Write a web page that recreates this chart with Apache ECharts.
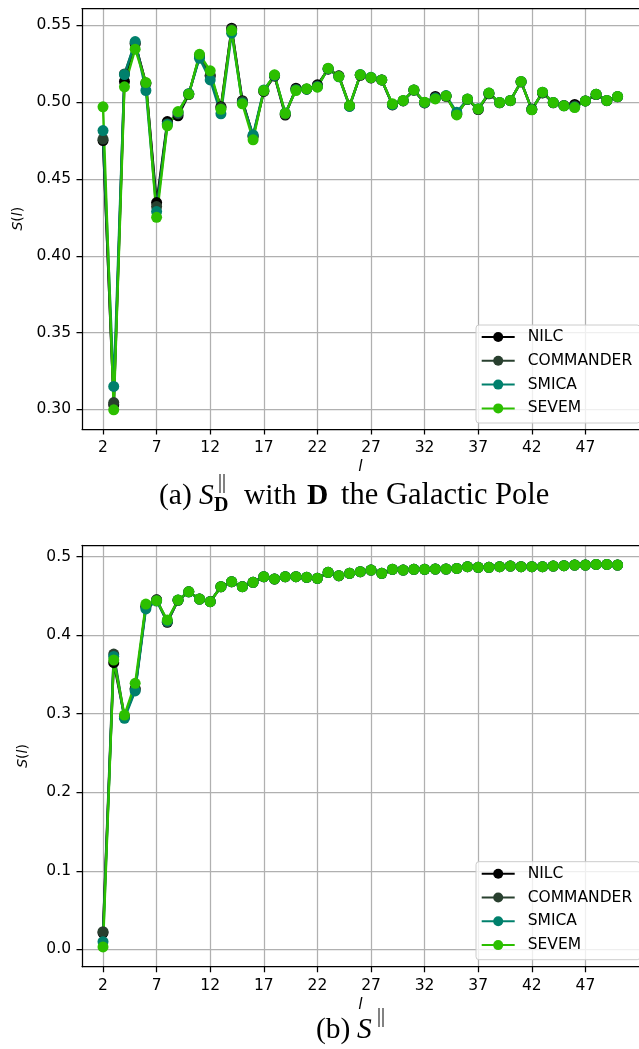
<!DOCTYPE html>
<html><head><meta charset="utf-8">
<script src="https://cdn.jsdelivr.net/npm/echarts@6/dist/echarts.min.js"></script>
<style>html,body{margin:0;padding:0;background:#fff}#c{width:639px;height:1049px}</style>
</head><body><div id="c"></div>
<script>
// multipole l
const ells = [2,3,4,5,6,7,8,9,10,11,12,13,14,15,16,17,18,19,20,21,22,23,24,25,26,27,28,29,30,31,32,33,34,35,36,37,38,39,40,41,42,43,44,45,46,47,48,49,50];
const seriesNames = ['NILC','COMMANDER','SMICA','SEVEM'];
const xTickValues = [2,7,12,17,22,27,32,37,42,47];
const yTickValuesA = [0.30,0.35,0.40,0.45,0.50,0.55];
const yTickValuesB = [0.0,0.1,0.2,0.3,0.4,0.5];

// (a) S_D with D the Galactic Pole
const nilcA = [0.475,0.303,0.5135,0.538,0.5125,0.4346,0.4874,0.4911,0.505,0.530,0.517,0.4971,0.5482,0.501,0.478,0.507,0.517,0.4916,0.5091,0.5085,0.5113,0.5215,0.5172,0.4975,0.5175,0.5158,0.5145,0.4982,0.5008,0.5078,0.4995,0.5037,0.5038,0.4925,0.5018,0.4952,0.5055,0.4996,0.5010,0.5132,0.4955,0.5060,0.4996,0.4978,0.4985,0.5008,0.5050,0.5010,0.5035];
const commanderA = [0.476,0.3044,0.5184,0.5385,0.512,0.432,0.486,0.4925,0.5055,0.530,0.5175,0.4965,0.5475,0.5005,0.4775,0.5072,0.5172,0.4922,0.5085,0.5086,0.5105,0.5218,0.5170,0.4976,0.5177,0.5159,0.5145,0.4985,0.5010,0.5079,0.4997,0.5030,0.5040,0.4922,0.5019,0.4954,0.5057,0.4997,0.5011,0.5133,0.4952,0.5062,0.4997,0.4977,0.4975,0.5008,0.5051,0.5011,0.5036];
const smicaA = [0.4815,0.3149,0.518,0.5395,0.5076,0.4288,0.4855,0.4935,0.5055,0.5286,0.5145,0.4924,0.5449,0.4995,0.4787,0.5080,0.5175,0.4930,0.5080,0.5085,0.5100,0.5218,0.5165,0.4972,0.5180,0.5162,0.5145,0.4985,0.5010,0.5080,0.4998,0.5025,0.5043,0.4935,0.5020,0.4958,0.5059,0.4998,0.5011,0.5134,0.4952,0.5065,0.4998,0.4976,0.4968,0.5008,0.5052,0.5011,0.5037];
const sevemA = [0.497,0.2997,0.510,0.5345,0.5128,0.4250,0.4846,0.4939,0.5052,0.5312,0.5204,0.4954,0.5466,0.4989,0.4755,0.5076,0.5178,0.4928,0.5076,0.5087,0.5098,0.5221,0.5167,0.4978,0.5178,0.5160,0.5145,0.4989,0.5011,0.5080,0.5000,0.5021,0.5041,0.4917,0.5020,0.4956,0.5059,0.4998,0.5011,0.5134,0.4950,0.5065,0.4998,0.4976,0.4965,0.5008,0.5052,0.5011,0.5037];

// (b) S
const nilcB = [0.021,0.365,0.296,0.332,0.437,0.445,0.4165,0.4445,0.4552,0.4460,0.4428,0.4617,0.4680,0.4619,0.4673,0.4744,0.4715,0.4744,0.4745,0.4736,0.4724,0.4800,0.4757,0.4788,0.4808,0.4829,0.4788,0.4838,0.4830,0.4839,0.4839,0.4843,0.4843,0.4851,0.4872,0.4864,0.4864,0.4873,0.4880,0.4873,0.4873,0.4873,0.4881,0.4885,0.4893,0.4894,0.4901,0.4902,0.4894];
const commanderB = [0.0223,0.376,0.296,0.331,0.436,0.445,0.4170,0.4446,0.4553,0.4460,0.4427,0.4618,0.4681,0.4618,0.4674,0.4745,0.4716,0.4745,0.4745,0.4737,0.4724,0.4801,0.4758,0.4788,0.4809,0.4830,0.4788,0.4839,0.4830,0.4839,0.4839,0.4843,0.4843,0.4851,0.4873,0.4864,0.4864,0.4873,0.4881,0.4873,0.4873,0.4873,0.4881,0.4885,0.4894,0.4894,0.4902,0.4902,0.4894];
const smicaB = [0.0096,0.373,0.2941,0.329,0.4334,0.4435,0.4180,0.4447,0.4553,0.4461,0.4427,0.4618,0.4682,0.4618,0.4674,0.4745,0.4716,0.4745,0.4745,0.4737,0.4724,0.4801,0.4758,0.4788,0.4809,0.4830,0.4788,0.4839,0.4830,0.4839,0.4839,0.4843,0.4843,0.4851,0.4873,0.4864,0.4864,0.4873,0.4881,0.4873,0.4873,0.4873,0.4881,0.4885,0.4894,0.4894,0.4902,0.4902,0.4894];
const sevemB = [0.003,0.3684,0.2983,0.3387,0.4397,0.4440,0.4194,0.4448,0.4554,0.4461,0.4427,0.4618,0.4682,0.4618,0.4674,0.4745,0.4716,0.4745,0.4745,0.4737,0.4724,0.4801,0.4758,0.4788,0.4809,0.4830,0.4788,0.4839,0.4830,0.4839,0.4839,0.4843,0.4843,0.4851,0.4873,0.4864,0.4864,0.4873,0.4881,0.4873,0.4873,0.4873,0.4881,0.4885,0.4894,0.4894,0.4902,0.4902,0.4894];

const colors = {NILC:'#000000', COMMANDER:'#29402f', SMICA:'#00806c', SEVEM:'#2cbf00'};
const FONT = 'DejaVu Sans';
const FS = 15.5;

const chart = echarts.init(document.getElementById('c'), null, {renderer:'canvas'});

function xAxisCfg(gi){
  return {
    type:'value', gridIndex:gi, min:0.04, max:52.0, position:'bottom',
    name:'l', nameLocation:'middle', nameGap:30,
    nameTextStyle:{fontFamily:FONT, fontStyle:'italic', fontSize:FS, color:'#000'},
    axisLine:{show:true, onZero:false, lineStyle:{color:'#000', width:1.25}},
    axisTick:{show:true, inside:false, length:5.5, customValues:xTickValues, lineStyle:{color:'#000', width:1.25}},
    axisLabel:{customValues:xTickValues, margin:11, fontFamily:FONT, fontSize:FS, color:'#000'},
    splitLine:{show:true, lineStyle:{color:'#b0b0b0', width:1.25}}
  };
}
function topBorder(gi){
  return {type:'value', gridIndex:gi, min:0.04, max:52.0, position:'top',
    axisLine:{show:true, onZero:false, lineStyle:{color:'#000', width:1.25}},
    axisTick:{show:false}, axisLabel:{show:false}, splitLine:{show:false}};
}
function yAxisCfg(gi, mn, mx, ticks, digits){
  return {
    type:'value', gridIndex:gi, min:mn, max:mx,
    name:'{i|S}({i|l})', nameLocation:'middle', nameGap:52,
    nameTextStyle:{fontFamily:FONT, fontSize:FS-1.5, color:'#000',
      rich:{i:{fontFamily:FONT, fontStyle:'italic', fontSize:FS-1.5, color:'#000'}}},
    axisLine:{show:true, onZero:false, lineStyle:{color:'#000', width:1.25}},
    axisTick:{show:true, inside:false, length:5.5, customValues:ticks, lineStyle:{color:'#000', width:1.25}},
    axisLabel:{customValues:ticks, margin:11, fontFamily:FONT, fontSize:FS, color:'#000',
      formatter:(v)=>Number(v).toFixed(digits)},
    splitLine:{show:true, lineStyle:{color:'#b0b0b0', width:1.25}}
  };
}
function mkSeries(name, vals, gi){
  return {
    type:'line', name:name, xAxisIndex:gi*2, yAxisIndex:gi,
    data: ells.map((l,i)=>[l, vals[i]]),
    symbol:'circle', symbolSize:11, showAllSymbol:true,
    lineStyle:{color:colors[name], width:2.4},
    itemStyle:{color:colors[name], borderWidth:0},
    emphasis:{disabled:true}, animation:false, clip:true
  };
}
function legendCfg(top){
  return {
    orient:'vertical', left:476, top:top, itemWidth:33, itemHeight:12.5, itemGap:7.8,
    padding:[4,8,6.6,4.7],
    backgroundColor:'rgba(255,255,255,0.8)', borderColor:'#cccccc', borderWidth:1, borderRadius:3,
    textStyle:{fontFamily:FONT, fontSize:FS, color:'#000', padding:[0,0,0,8]},
    data:seriesNames, selectedMode:false
  };
}

const serif = '"Liberation Serif", "DejaVu Serif", serif';
function cap(x, y, text, size, extra){
  return {type:'text', silent:true, style:Object.assign({x:x, y:y, text:text, fill:'#000',
    fontFamily:serif, fontSize:size, textAlign:'left', textVerticalAlign:'middle'}, extra||{})};
}
const BA = 496, BB = 1030;

chart.setOption({
  animation:false,
  backgroundColor:'#ffffff',
  grid:[
    {left:82, top:8.5, width:566, height:420.5, containLabel:false},
    {left:82, top:545.3, width:566, height:421.4, containLabel:false}
  ],
  xAxis:[xAxisCfg(0), topBorder(0), xAxisCfg(1), topBorder(1)],
  yAxis:[yAxisCfg(0, 0.2872, 0.5610, yTickValuesA, 2), yAxisCfg(1, -0.0222, 0.5145, yTickValuesB, 1)],
  legend:[legendCfg(325), legendCfg(861.7)],
  series:[
    mkSeries('NILC', nilcA, 0), mkSeries('COMMANDER', commanderA, 0), mkSeries('SMICA', smicaA, 0), mkSeries('SEVEM', sevemA, 0),
    mkSeries('NILC', nilcB, 1), mkSeries('COMMANDER', commanderB, 1), mkSeries('SMICA', smicaB, 1), mkSeries('SEVEM', sevemB, 1)
  ],
  graphic:[
    cap(159, BA, '(a)', 29.5),
    cap(199, BA, 'S', 29.5, {fontStyle:'italic'}),
    cap(218, BA-13, '||', 20),
    cap(214, BA+10, 'D', 20, {fontWeight:'bold'}),
    cap(244, BA, 'with', 29.5),
    cap(307, BA, 'D', 29.5, {fontWeight:'bold'}),
    cap(341, BA, 'the Galactic Pole', 30.5),
    cap(316, BB, '(b)', 29.5),
    cap(357, BB, 'S', 29.5, {fontStyle:'italic'}),
    cap(377, BB-13, '||', 20)
  ]
});
</script></body></html>
